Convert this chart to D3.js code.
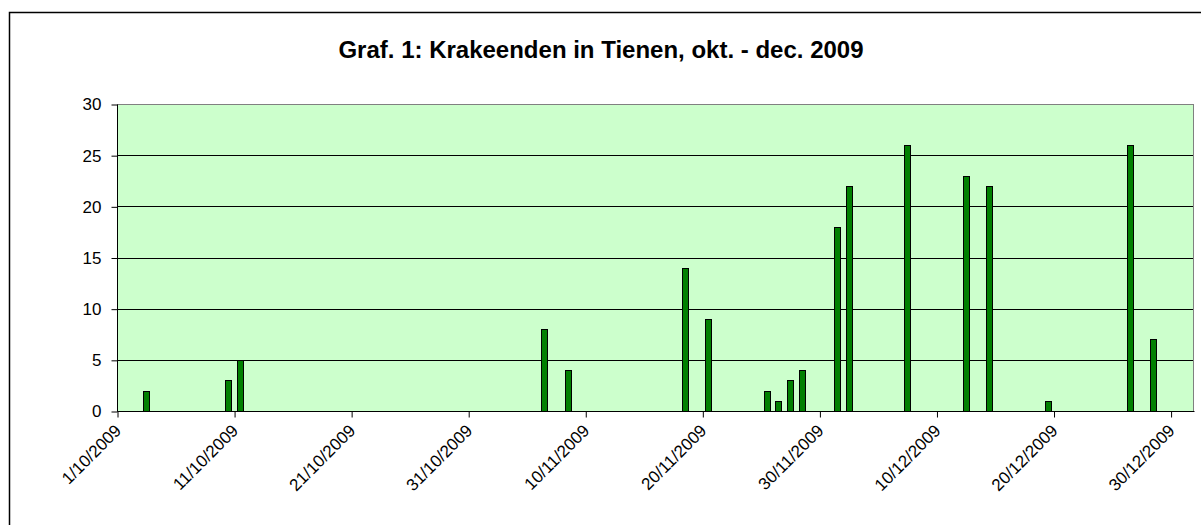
<!DOCTYPE html>
<html lang="nl">
<head>
<meta charset="UTF-8">
<title>Krakeenden in Tienen</title>
<script src="https://d3js.org/d3.v7.min.js"></script>
<style>
  body { margin: 0; background: #fff; }
  svg { display: block; font-family: Arial, "Liberation Sans", sans-serif; }
</style>
</head>
<body>
<div id="chart"></div>
<script>
// tellingen (datum -> aantal)
const dates = ["2009-10-03", "2009-10-10", "2009-10-11", "2009-11-06", "2009-11-08",
  "2009-11-18", "2009-11-20", "2009-11-25", "2009-11-26", "2009-11-27", "2009-11-28",
  "2009-12-01", "2009-12-02", "2009-12-07", "2009-12-12", "2009-12-14", "2009-12-19",
  "2009-12-26", "2009-12-28"];
const counts = [2, 3, 5, 8, 4, 14, 9, 2, 1, 3, 4, 18, 22, 26, 23, 22, 1, 26, 7];
const yTicks = [0, 5, 10, 15, 20, 25, 30];
const xTickDates = ["2009-10-01", "2009-10-11", "2009-10-21", "2009-10-31", "2009-11-10",
  "2009-11-20", "2009-11-30", "2009-12-10", "2009-12-20", "2009-12-30"];
const title = "Graf. 1: Krakeenden in Tienen, okt. - dec. 2009";

const W = 1201, H = 525;
const plot = { left: 117, right: 1194, top: 104, bottom: 411 };
const parse = d3.utcParse("%Y-%m-%d");
const fmt = d3.utcFormat("%-d/%m/%Y");
const font = "Arial, 'Liberation Sans', sans-serif";

const svg = d3.select("#chart").append("svg").attr("width", W).attr("height", H);

// buitenrand van de grafiek
svg.append("rect").attr("x", 9.5).attr("y", 12.5).attr("width", W).attr("height", H)
  .attr("fill", "#fff").attr("stroke", "#000").attr("stroke-width", 1.5);

svg.append("text").attr("x", 601).attr("y", 58).attr("text-anchor", "middle")
  .attr("font-size", "24px").attr("font-weight", "bold").text(title);

const x = d3.scaleUtc()
  .domain([parse("2009-10-01"), parse("2010-01-01")])
  .range([plot.left, plot.right]);
const y = d3.scaleLinear().domain([0, 30]).range([plot.bottom, plot.top]);

// plotgebied
svg.append("rect").attr("x", plot.left + 0.5).attr("y", plot.top + 0.5)
  .attr("width", plot.right - plot.left - 1).attr("height", plot.bottom - plot.top)
  .attr("fill", "#ccffcc").attr("stroke", "#808080");

// rasterlijnen
svg.append("g").selectAll("line").data(yTicks.filter(v => v > 0 && v < 30)).join("line")
  .attr("x1", plot.left).attr("x2", plot.right - 1)
  .attr("y1", d => Math.round(y(d)) + 0.5).attr("y2", d => Math.round(y(d)) + 0.5)
  .attr("stroke", "#000");

// staven
const data = dates.map((d, i) => ({ date: parse(d), value: counts[i] }));
const barW = 6;
svg.append("g").selectAll("rect").data(data).join("rect")
  .attr("x", d => Math.round(x(d3.utcHour.offset(d.date, 12)) - barW / 2) + 0.5)
  .attr("y", d => Math.round(y(d.value)) + 0.5)
  .attr("width", barW)
  .attr("height", d => Math.round(y(0)) - Math.round(y(d.value)))
  .attr("fill", "#008000").attr("stroke", "#000");

// y-as
const yAxis = svg.append("g").attr("transform", `translate(${plot.left + 0.5},0.5)`)
  .call(d3.axisLeft(y).tickValues(yTicks).tickSize(6).tickPadding(10));
yAxis.attr("font-size", null).attr("font-family", null);
yAxis.selectAll("text").style("font-size", "17px").attr("fill", "#000").style("font-family", font);
yAxis.selectAll("line, path").attr("stroke", "#000");
yAxis.select(".domain").attr("d", `M0,${plot.top}V${plot.bottom}`);

// x-as
const xAxis = svg.append("g").attr("transform", `translate(0.5,${plot.bottom + 0.5})`)
  .call(d3.axisBottom(x).tickValues(xTickDates.map(parse)).tickFormat(fmt).tickSize(6));
xAxis.attr("font-size", null).attr("font-family", null);
xAxis.selectAll("line, path").attr("stroke", "#000");
xAxis.select(".domain").attr("d", `M${plot.left},0H${plot.right}`);
xAxis.selectAll("text")
  .style("font-size", "17px").attr("fill", "#000").style("font-family", font)
  .attr("text-anchor", "end")
  .attr("dy", "0.35em")
  .attr("transform", "translate(0,16) rotate(-45)")
  .attr("y", 0).attr("x", 0);
</script>
</body>
</html>
